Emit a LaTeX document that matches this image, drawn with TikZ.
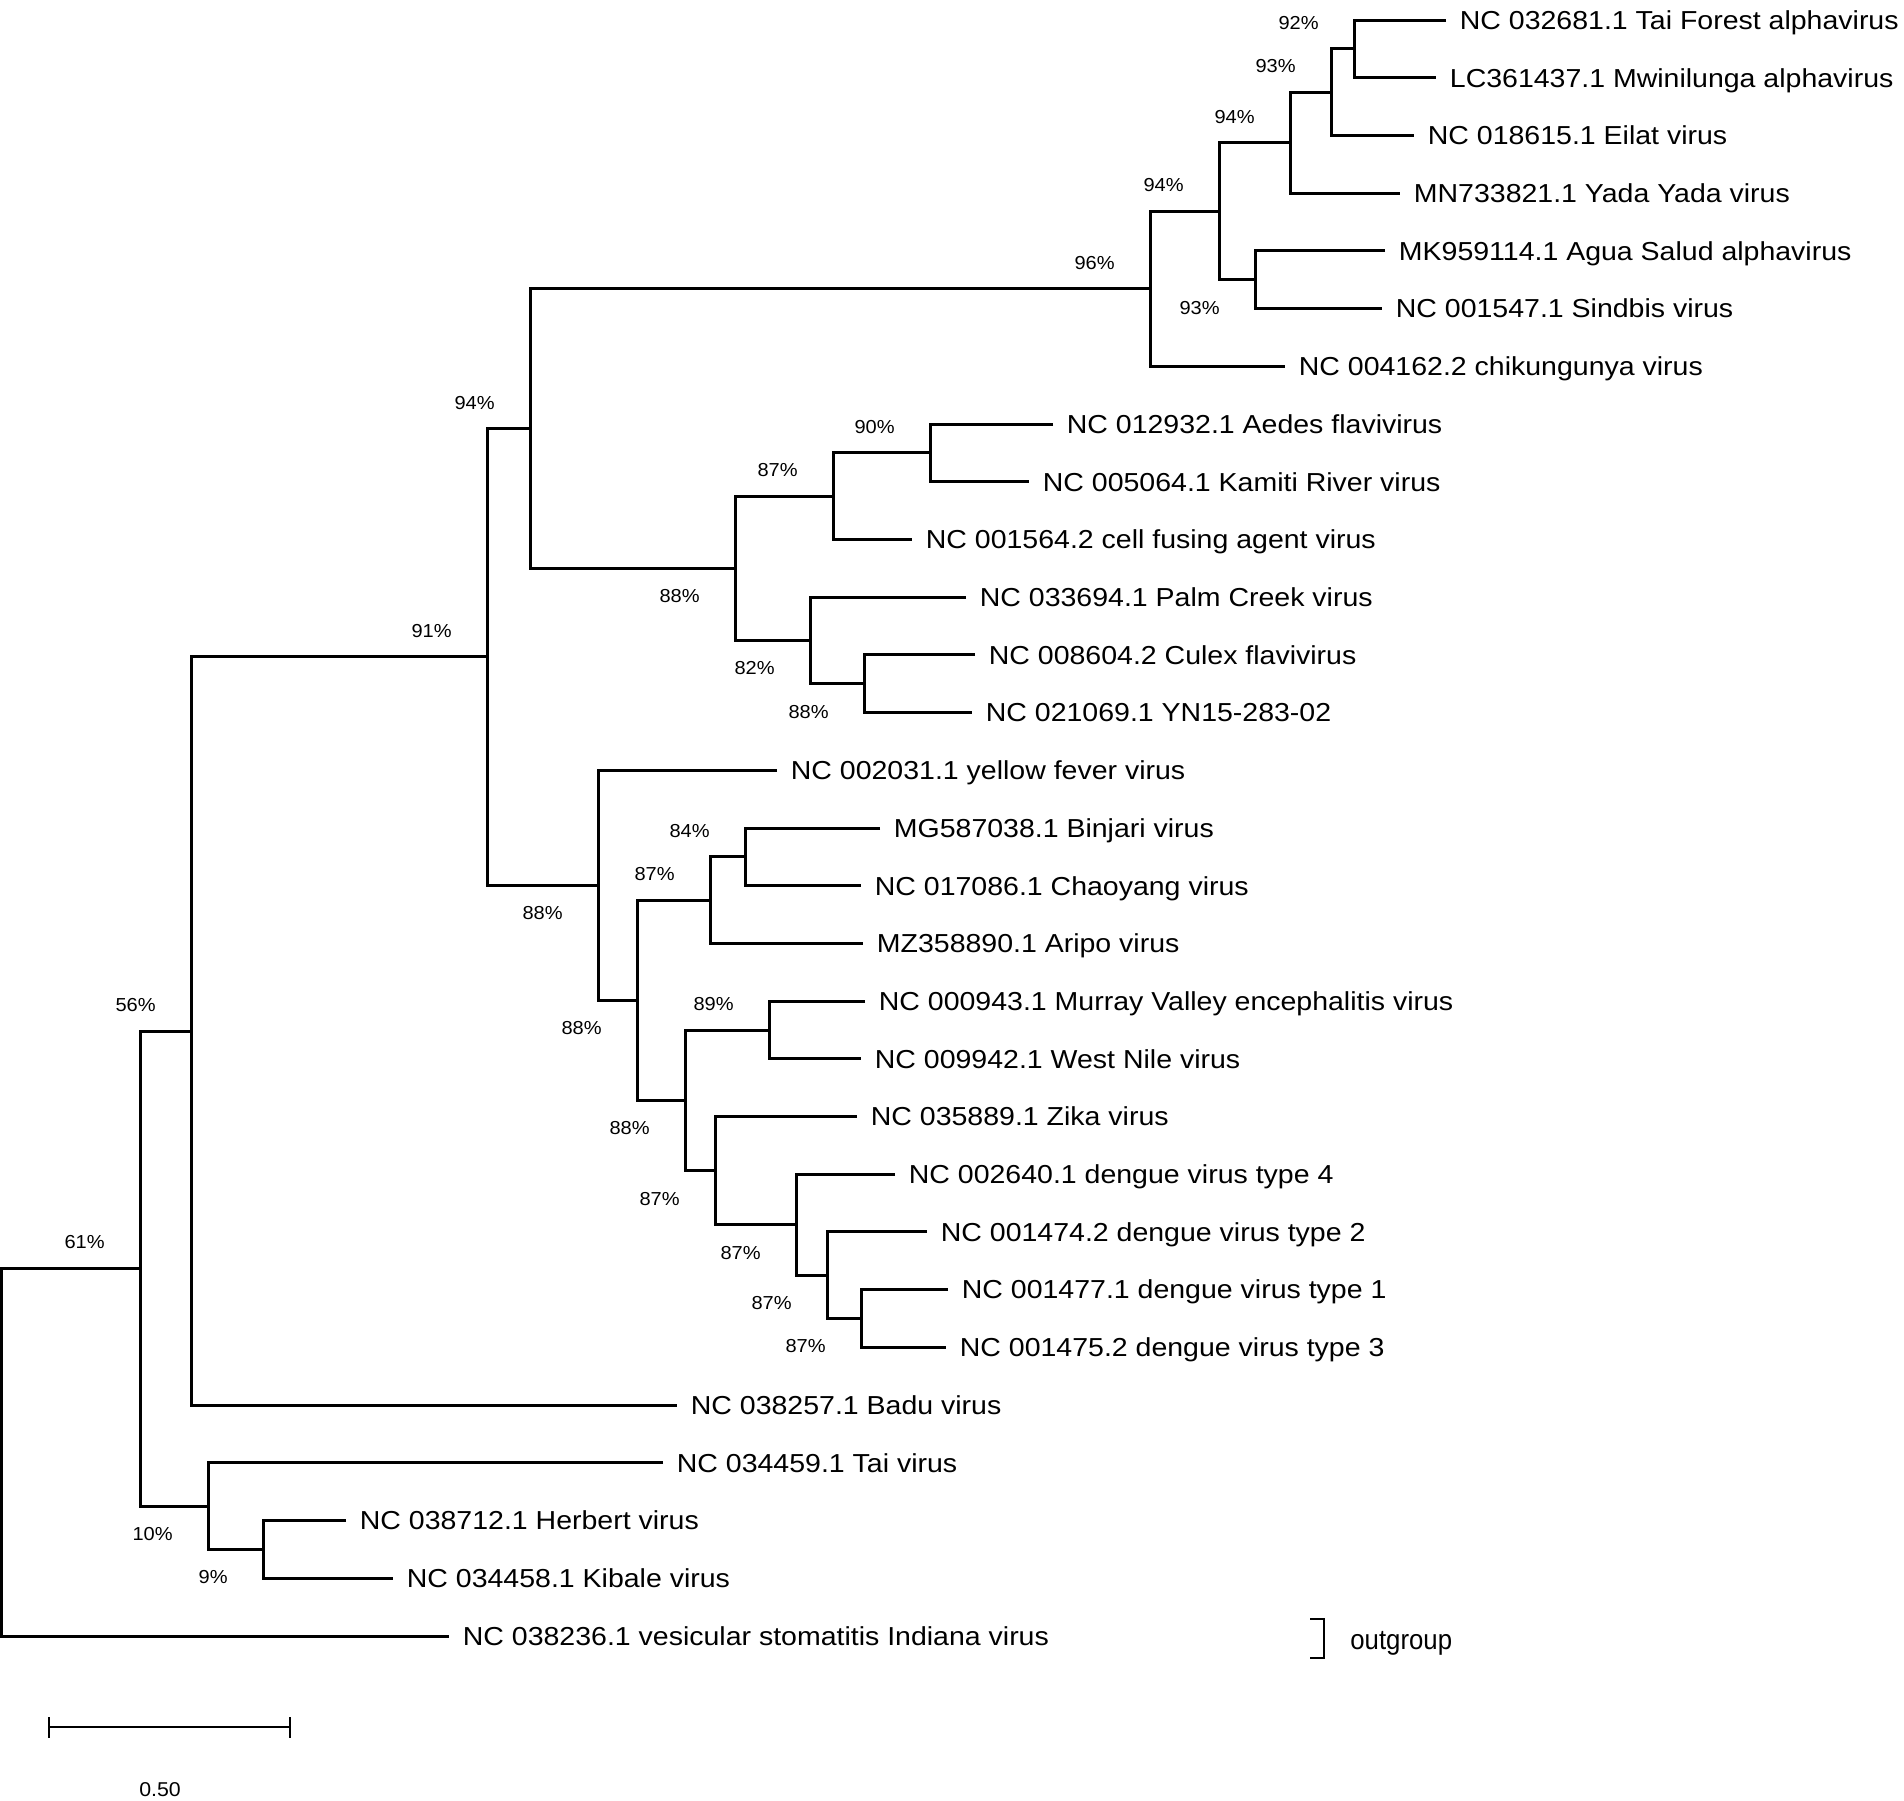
\documentclass[tikz,border=0pt]{standalone}
\usepackage{fontspec}
\setmainfont{Liberation Sans}
\newfontfamily\leaffont[FakeStretch=1.096]{Liberation Sans}
\newfontfamily\bsfont[FakeStretch=1.065]{Liberation Sans}
\newfontfamily\ogfont[FakeStretch=0.92]{Liberation Sans}
\usetikzlibrary{calc}
\begin{document}
\begin{tikzpicture}[x=0.5pt,y=-0.5pt,
  branch/.style={line width=1.5pt},
  leaf/.style={anchor=west, inner xsep=6.75pt, inner ysep=0pt, text height=9.3pt, text depth=0pt, font=\leaffont\fontsize{13pt}{15pt}\selectfont},
  bs/.style={anchor=east, inner sep=0pt, font=\bsfont\fontsize{9.4pt}{11pt}\selectfont},
  thin/.style={line width=1.2pt}
]
\useasboundingbox[fill=white] (0,0) rectangle (1904,1800);

% internal nodes
\coordinate (nA) at (1354,48.9);
\coordinate (nB) at (1331,92.1);
\coordinate (nC) at (1290,142.6);
\coordinate (nD) at (1255,279.7);
\coordinate (nE) at (1219,211.2);
\coordinate (nF) at (1150,288.8);
\coordinate (nG) at (930,452.9);
\coordinate (nH) at (833,496.1);
\coordinate (nI) at (864,683.7);
\coordinate (nJ) at (810,640.4);
\coordinate (nK) at (735,568.3);
\coordinate (nL) at (530,428.6);
\coordinate (nM) at (745,856.9);
\coordinate (nN) at (710,900.1);
\coordinate (nO) at (769,1030);
\coordinate (nP) at (861,1318.5);
\coordinate (nQ) at (827,1275.2);
\coordinate (nR) at (796,1224.7);
\coordinate (nS) at (715,1170.6);
\coordinate (nT) at (685,1100.3);
\coordinate (nU) at (637,1000.2);
\coordinate (nV) at (598,885.2);
\coordinate (nW) at (487,656.9);
\coordinate (nX) at (191,1031);
\coordinate (nY) at (208,1506);
\coordinate (nZ) at (263,1549);
\coordinate (nAA) at (140,1268.5);
\coordinate (root) at (1.5,1452);

% leaves
\node[leaf] (l1) at (1446,20) {NC 032681.1 Tai Forest alphavirus};
\node[leaf] (l2) at (1436,77.7) {LC361437.1 Mwinilunga alphavirus};
\node[leaf] (l3) at (1414,135.4) {NC 018615.1 Eilat virus};
\node[leaf] (l4) at (1400,193.1) {MN733821.1 Yada Yada virus};
\node[leaf] (l5) at (1385,250.8) {MK959114.1 Agua Salud alphavirus};
\node[leaf] (l6) at (1382,308.6) {NC 001547.1 Sindbis virus};
\node[leaf] (l7) at (1285,366.3) {NC 004162.2 chikungunya virus};
\node[leaf] (l8) at (1053,424.0) {NC 012932.1 Aedes flavivirus};
\node[leaf] (l9) at (1029,481.7) {NC 005064.1 Kamiti River virus};
\node[leaf] (l10) at (912,539.4) {NC 001564.2 cell fusing agent virus};
\node[leaf] (l11) at (966,597.1) {NC 033694.1 Palm Creek virus};
\node[leaf] (l12) at (975,654.8) {NC 008604.2 Culex flavivirus};
\node[leaf] (l13) at (972,712.5) {NC 021069.1 YN15-283-02};
\node[leaf] (l14) at (777,770.2) {NC 002031.1 yellow fever virus};
\node[leaf] (l15) at (880,828.0) {MG587038.1 Binjari virus};
\node[leaf] (l16) at (861,885.7) {NC 017086.1 Chaoyang virus};
\node[leaf] (l17) at (863,943.4) {MZ358890.1 Aripo virus};
\node[leaf] (l18) at (865,1001.1) {NC 000943.1 Murray Valley encephalitis virus};
\node[leaf] (l19) at (861,1058.8) {NC 009942.1 West Nile virus};
\node[leaf] (l20) at (857,1116.5) {NC 035889.1 Zika virus};
\node[leaf] (l21) at (895,1174.2) {NC 002640.1 dengue virus type 4};
\node[leaf] (l22) at (927,1231.9) {NC 001474.2 dengue virus type 2};
\node[leaf] (l23) at (948,1289.6) {NC 001477.1 dengue virus type 1};
\node[leaf] (l24) at (946,1347.3) {NC 001475.2 dengue virus type 3};
\node[leaf] (l25) at (677,1405.0) {NC 038257.1 Badu virus};
\node[leaf] (l26) at (663,1462.8) {NC 034459.1 Tai virus};
\node[leaf] (l27) at (346,1520.5) {NC 038712.1 Herbert virus};
\node[leaf] (l28) at (393,1578.2) {NC 034458.1 Kibale virus};
\node[leaf] (l29) at (449,1636.0) {NC 038236.1 vesicular stomatitis Indiana virus};

% branches
\draw[branch] (l1) -| (nA) |- (l2);
\draw[branch] (nA) -| (nB) |- (l3);
\draw[branch] (nB) -| (nC) |- (l4);
\draw[branch] (l5) -| (nD) |- (l6);
\draw[branch] (nC) -| (nE) |- (nD);
\draw[branch] (nE) -| (nF) |- (l7);
\draw[branch] (l8) -| (nG) |- (l9);
\draw[branch] (nG) -| (nH) |- (l10);
\draw[branch] (l12) -| (nI) |- (l13);
\draw[branch] (l11) -| (nJ) |- (nI);
\draw[branch] (nH) -| (nK) |- (nJ);
\draw[branch] (nF) -| (nL) |- (nK);
\draw[branch] (l15) -| (nM) |- (l16);
\draw[branch] (nM) -| (nN) |- (l17);
\draw[branch] (l18) -| (nO) |- (l19);
\draw[branch] (l23) -| (nP) |- (l24);
\draw[branch] (l22) -| (nQ) |- (nP);
\draw[branch] (l21) -| (nR) |- (nQ);
\draw[branch] (l20) -| (nS) |- (nR);
\draw[branch] (nO) -| (nT) |- (nS);
\draw[branch] (nN) -| (nU) |- (nT);
\draw[branch] (l14) -| (nV) |- (nU);
\draw[branch] (nL) -| (nW) |- (nV);
\draw[branch] (nW) -| (nX) |- (l25);
\draw[branch] (l27) -| (nZ) |- (l28);
\draw[branch] (l26) -| (nY) |- (nZ);
\draw[branch] (nX) -| (nAA) |- (nY);
\draw[branch] (nAA) -| (root) |- (l29);

% bootstrap values
\node[bs] (bA) at ($(nA)+(-35,-26)$) {92\%};
\node[bs] (bB) at ($(nB)+(-35,-26)$) {93\%};
\node[bs] (bC) at ($(nC)+(-35,-26)$) {94\%};
\node[bs] (bE) at ($(nE)+(-35,-26)$) {94\%};
\node[bs] (bD) at ($(nD)+(-35,28)$) {93\%};
\node[bs] (bF) at ($(nF)+(-35,-26)$) {96\%};
\node[bs] (bL) at ($(nL)+(-35,-26)$) {94\%};
\node[bs] (bG) at ($(nG)+(-35,-26)$) {90\%};
\node[bs] (bH) at ($(nH)+(-35,-26)$) {87\%};
\node[bs] (bK) at ($(nK)+(-35,28)$) {88\%};
\node[bs] (bJ) at ($(nJ)+(-35,28)$) {82\%};
\node[bs] (bI) at ($(nI)+(-35,28)$) {88\%};
\node[bs] (bW) at ($(nW)+(-35,-26)$) {91\%};
\node[bs] (bV) at ($(nV)+(-35,28)$) {88\%};
\node[bs] (bM) at ($(nM)+(-35,-26)$) {84\%};
\node[bs] (bN) at ($(nN)+(-35,-26)$) {87\%};
\node[bs] (bU) at ($(nU)+(-35,28)$) {88\%};
\node[bs] (bO) at ($(nO)+(-35,-26)$) {89\%};
\node[bs] (bT) at ($(nT)+(-35,28)$) {88\%};
\node[bs] (bS) at ($(nS)+(-35,28)$) {87\%};
\node[bs] (bR) at ($(nR)+(-35,28)$) {87\%};
\node[bs] (bQ) at ($(nQ)+(-35,28)$) {87\%};
\node[bs] (bP) at ($(nP)+(-35,28)$) {87\%};
\node[bs] (bX) at ($(nX)+(-35,-26)$) {56\%};
\node[bs] (bAA) at ($(nAA)+(-35,-26)$) {61\%};
\node[bs] (bY) at ($(nY)+(-35,28)$) {10\%};
\node[bs] (bZ) at ($(nZ)+(-35,28)$) {9\%};

% outgroup bracket
\coordinate (ogT) at (1310,1619);
\coordinate (ogB) at (1310,1658);
\draw[thin] (ogT) -- ++(14,0) |- (ogB);
\node[anchor=base west, inner sep=0pt, font=\ogfont\fontsize{14pt}{16pt}\selectfont] (og) at (1350,1649) {outgroup};

% scale bar
\coordinate (sbL) at (49,1727);
\coordinate (sbR) at (290,1727);
\draw[thin] (sbL) -- (sbR);
\draw[thin] ($(sbL)+(0,-10)$) -- ($(sbL)+(0,11)$);
\draw[thin] ($(sbR)+(0,-10)$) -- ($(sbR)+(0,11)$);
\node[anchor=base, inner sep=0pt, font=\bsfont\fontsize{10pt}{12pt}\selectfont] (sbT) at (160,1796.5) {0.50};
\end{tikzpicture}
\end{document}
